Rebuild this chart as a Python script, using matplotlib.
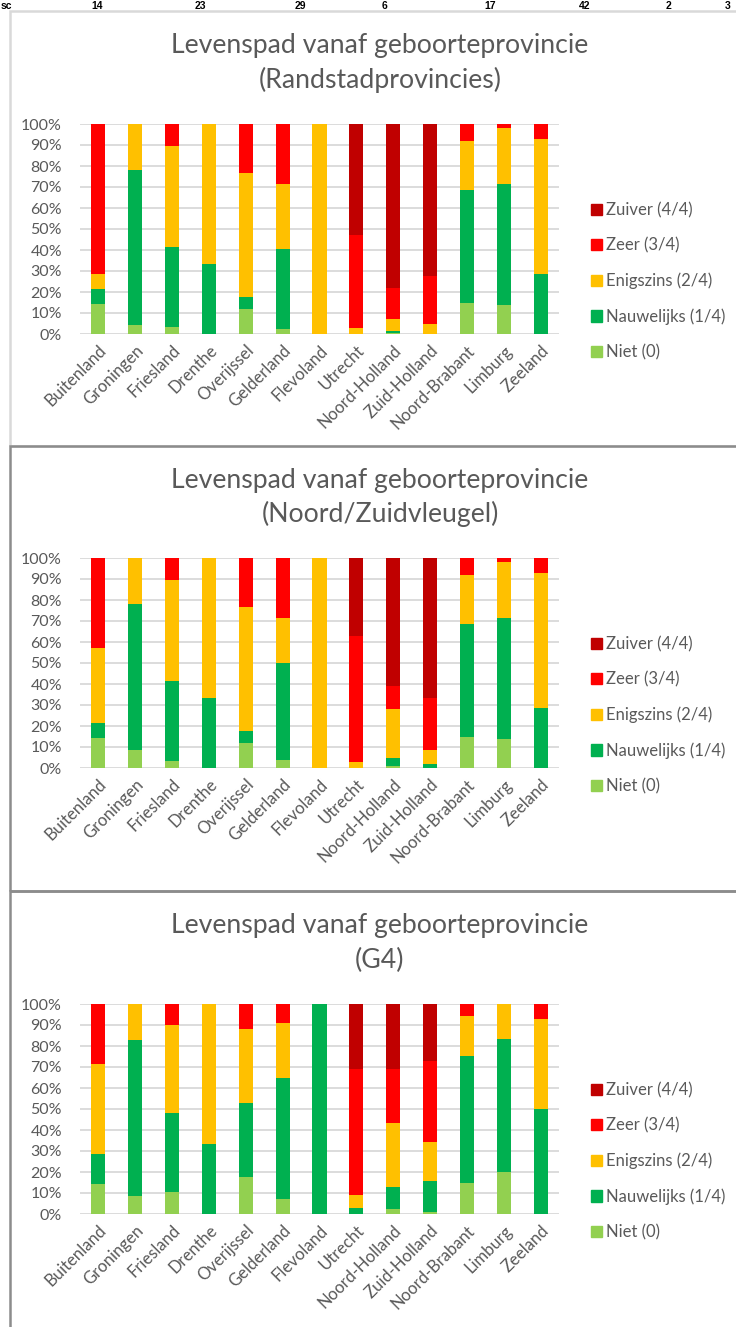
import matplotlib.pyplot as plt
from matplotlib.patches import Rectangle, Patch

plt.rcParams['font.family'] = ['Lato', 'DejaVu Sans']

W, H = 736, 1327

provincies = ["Buitenland", "Groningen", "Friesland", "Drenthe", "Overijssel", "Gelderland",
              "Flevoland", "Utrecht", "Noord-Holland", "Zuid-Holland", "Noord-Brabant",
              "Limburg", "Zeeland"]
reeksen = ["Niet (0)", "Nauwelijks (1/4)", "Enigszins (2/4)", "Zeer (3/4)", "Zuiver (4/4)"]
kleuren = ["#92D050", "#00B050", "#FFC000", "#FF0000", "#C00000"]

# cut-off table row above the charts (counts per province)
strip_labels = ["sc", "14", "23", "29", "6", "17", "42", "2", "3"]

# Randstadprovincies (percentages)
p1_niet = [14.3, 4.3, 3.4, 0, 11.8, 2.4, 0, 0, 0.5, 0, 14.9, 13.8, 0]
p1_nauw = [7.1, 73.9, 37.9, 33.3, 5.9, 38.1, 0, 0, 0.8, 0, 53.7, 57.7, 28.6]
p1_enig = [7.1, 21.8, 48.3, 66.7, 58.8, 31.0, 100, 2.9, 6.0, 5.0, 23.5, 26.4, 64.3]
p1_zeer = [71.5, 0, 10.4, 0, 23.5, 28.5, 0, 44.2, 14.5, 22.6, 7.9, 2.1, 7.1]
p1_zuiver = [0, 0, 0, 0, 0, 0, 0, 52.9, 78.2, 72.4, 0, 0, 0]

# Noord/Zuidvleugel
p2_niet = [14.3, 8.7, 3.4, 0, 11.8, 4.0, 0, 0, 1.0, 0, 14.9, 13.8, 0]
p2_nauw = [7.1, 69.6, 37.9, 33.3, 5.9, 45.8, 0, 0, 3.8, 1.7, 53.7, 57.7, 28.6]
p2_enig = [35.7, 21.7, 48.3, 66.7, 58.8, 21.6, 100, 2.9, 23.5, 7.0, 23.5, 26.4, 64.3]
p2_zeer = [42.9, 0, 10.4, 0, 23.5, 28.6, 0, 59.8, 10.9, 24.6, 7.9, 2.1, 7.1]
p2_zuiver = [0, 0, 0, 0, 0, 0, 0, 37.3, 60.8, 66.7, 0, 0, 0]

# G4
p3_niet = [14.3, 8.7, 10.3, 0, 17.6, 7.1, 0, 0, 2.2, 1.1, 14.9, 19.8, 0]
p3_nauw = [14.3, 74.3, 37.9, 33.3, 35.3, 57.5, 100, 3.0, 10.6, 14.7, 60.4, 63.6, 50.1]
p3_enig = [42.9, 17.0, 41.8, 66.7, 35.3, 26.4, 0, 5.9, 30.5, 18.6, 18.8, 16.6, 42.9]
p3_zeer = [28.5, 0, 10.0, 0, 11.8, 9.0, 0, 60.0, 25.6, 38.3, 5.9, 0, 7.0]
p3_zuiver = [0, 0, 0, 0, 0, 0, 0, 31.1, 31.1, 27.3, 0, 0, 0]

titels = ["(Randstadprovincies)", "(Noord/Zuidvleugel)", "(G4)"]
panels = [
    [p1_niet, p1_nauw, p1_enig, p1_zeer, p1_zuiver],
    [p2_niet, p2_nauw, p2_enig, p2_zeer, p2_zuiver],
    [p3_niet, p3_nauw, p3_enig, p3_zeer, p3_zuiver],
]

grijs = "#595959"
fig = plt.figure(figsize=(W / 100, H / 100), dpi=100)

# panel frames
frames = [(11, 446, "#d9d9d9"), (446, 891, "#8c8c8c"), (891, 1340, "#8c8c8c")]
for top, bottom, col in frames:
    fig.add_artist(Rectangle((9.5 / W, 1 - bottom / H), 740 / W, (bottom - top) / H,
                             transform=fig.transFigure, fill=False, edgecolor=col, lw=1.8))

strip_x = [1, 97, 200, 300, 385, 490, 585, 668, 728]
for x, s in zip(strip_x, strip_labels):
    fig.text(x / W, 1 - 9 / H, s, ha="left" if x == 1 else "center", va="baseline",
             fontsize=7.5, fontweight="bold", family="Liberation Sans")

plot_tops = [124, 558, 1004]
for top, sub, data in zip(plot_tops, titels, panels):
    ax = fig.add_axes([80 / W, 1 - (top + 210) / H, 479 / W, 210 / H])
    bottom = [0] * len(provincies)
    for vals, naam, kl in zip(data, reeksen, kleuren):
        ax.bar(range(len(provincies)), vals, width=0.38, bottom=bottom, color=kl,
               label=naam, linewidth=0)
        bottom = [b + v for b, v in zip(bottom, vals)]
    ax.set_xlim(-0.5, len(provincies) - 0.5)
    ax.set_ylim(0, 100)
    ax.set_yticks(range(0, 101, 10))
    ax.set_yticklabels([f"{v}%" for v in range(0, 101, 10)])
    ax.set_xticks(range(len(provincies)))
    ax.set_xticklabels(provincies, rotation=45, ha="right", rotation_mode="anchor")
    ax.tick_params(length=0, labelcolor=grijs)
    ax.tick_params(axis="y", pad=13, labelsize=11.5)
    ax.tick_params(axis="x", pad=6, labelsize=12)
    ax.grid(axis="y", color="#d9d9d9", lw=1.3)
    ax.set_axisbelow(True)
    for s in ["top", "right", "left", "bottom"]:
        ax.spines[s].set_visible(False)

    fig.text(380 / W, 1 - (top - 78) / H, "Levenspad vanaf geboorteprovincie",
             ha="center", va="center", fontsize=19.2, color=grijs)
    fig.text(380 / W, 1 - (top - 44) / H, sub, ha="center", va="center",
             fontsize=19.2, color=grijs)

    handles = [Patch(color=k) for k in kleuren][::-1]
    fig.legend(handles, reeksen[::-1], loc="center left",
               bbox_to_anchor=(591 / W, 1 - (top + 157) / H), frameon=False,
               fontsize=12, labelcolor=grijs, handlelength=0.65, handleheight=0.65,
               handletextpad=0.25, labelspacing=1.15, borderpad=0, borderaxespad=0)

fig.savefig("out.png", dpi=100)
